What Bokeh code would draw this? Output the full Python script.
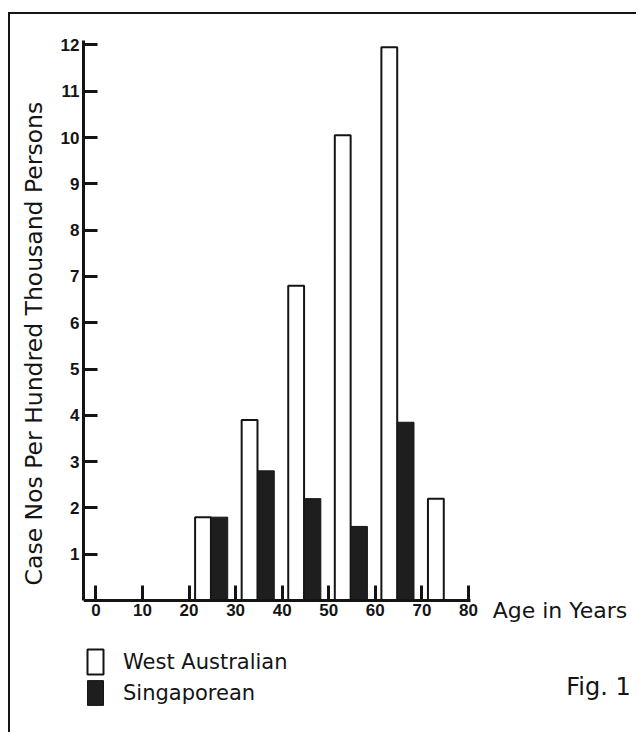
from bokeh.plotting import figure
from bokeh.models import (Range1d, FixedTicker, Label, Legend, LegendItem,
                          ColumnDataSource)
from bokeh.embed import file_html
from bokeh.resources import INLINE

# ---- data ----
decades = [20, 30, 40, 50, 60, 70]
west_australian = [1.8, 3.9, 6.8, 10.05, 11.95, 2.2]
singaporean = [1.8, 2.8, 2.2, 1.6, 3.85, 0.0]
x_ticks = [0, 10, 20, 30, 40, 50, 60, 70, 80]
y_ticks = [1, 2, 3, 4, 5, 6, 7, 8, 9, 10, 11, 12]

INK = "#141414"
FONT = "DejaVu Sans"
TICKFONT = "Liberation Sans"
NB = "\u00a0"

p = figure(frame_width=553, frame_height=718,
           x_range=Range1d(-2.66, 116.08), y_range=Range1d(-2.851, 12.657),
           output_backend="svg", toolbar_location=None,
           min_border_left=73, min_border_right=0,
           min_border_top=0, min_border_bottom=0)
p.outline_line_color = None
p.grid.visible = False
p.background_fill_color = "white"
p.border_fill_color = "white"
p.styles = {"margin-left": "8px", "margin-top": "12px",
            "border-left": "2px solid #141414",
            "border-top": "2px solid #141414"}

wa_src = ColumnDataSource(dict(x=[d + 3.0 for d in decades], top=west_australian))
sg_x = [d + 6.5 for d, v in zip(decades, singaporean) if v > 0]
sg_v = [v for v in singaporean if v > 0]
sg_src = ColumnDataSource(dict(x=sg_x, top=sg_v))

r_wa = p.vbar(x="x", top="top", width=3.4, bottom=0, source=wa_src,
              fill_color="white", line_color=INK, line_width=2)
r_sg = p.vbar(x="x", top="top", width=3.6, bottom=0, source=sg_src,
              fill_color="#1e1e1e", line_color=INK, line_width=1)

# axes
xa = p.xaxis[0]
xa.fixed_location = 0
xa.ticker = FixedTicker(ticks=x_ticks)
xa.bounds = (-2.66, 80.5)
xa.axis_line_width = 3
xa.axis_line_color = INK
xa.major_tick_in = 15
xa.major_tick_out = 0
xa.major_tick_line_width = 3
xa.major_tick_line_color = INK
xa.minor_tick_line_color = None
xa.major_label_text_font = TICKFONT
xa.major_label_text_font_style = "bold"
xa.major_label_text_font_size = "17px"
xa.major_label_text_color = INK
xa.major_label_standoff = 3

ya = p.yaxis[0]
ya.ticker = FixedTicker(ticks=y_ticks)
ya.bounds = (0, 12.1)
ya.axis_line_width = 3
ya.axis_line_color = INK
ya.major_tick_in = 14
ya.major_tick_out = 0
ya.major_tick_line_width = 3
ya.major_tick_line_color = INK
ya.minor_tick_line_color = None
ya.major_label_text_font = TICKFONT
ya.major_label_text_font_style = "bold"
ya.major_label_text_font_size = "17px"
ya.major_label_text_color = INK
ya.major_label_standoff = 4
ya.axis_label = NB * 8 + "Case Nos Per Hundred Thousand Persons"
ya.axis_label_text_font = FONT
ya.axis_label_text_font_style = "normal"
ya.axis_label_text_font_size = "23.5px"
ya.axis_label_text_color = INK
ya.axis_label_standoff = 10

# texts
p.add_layout(Label(x=85.2, y=-0.22, text="Age in Years", text_font=FONT,
                   text_font_size="22px", text_color=INK,
                   text_baseline="alphabetic", text_align="left"))
p.add_layout(Label(x=101.0, y=-1.86, text="Fig. 1", text_font=FONT,
                   text_font_size="24px", text_color=INK,
                   text_baseline="alphabetic", text_align="left"))

legend = Legend(items=[LegendItem(label="West Australian", renderers=[r_wa]),
                       LegendItem(label="Singaporean", renderers=[r_sg])],
                location=(2, 24), padding=0, margin=0, spacing=0,
                glyph_width=20, glyph_height=31, label_standoff=18,
                border_line_color=None, background_fill_alpha=0,
                label_text_font=FONT, label_text_font_size="21px",
                label_text_color=INK)
p.add_layout(legend)

open("out.html", "w").write(file_html(p, INLINE))
